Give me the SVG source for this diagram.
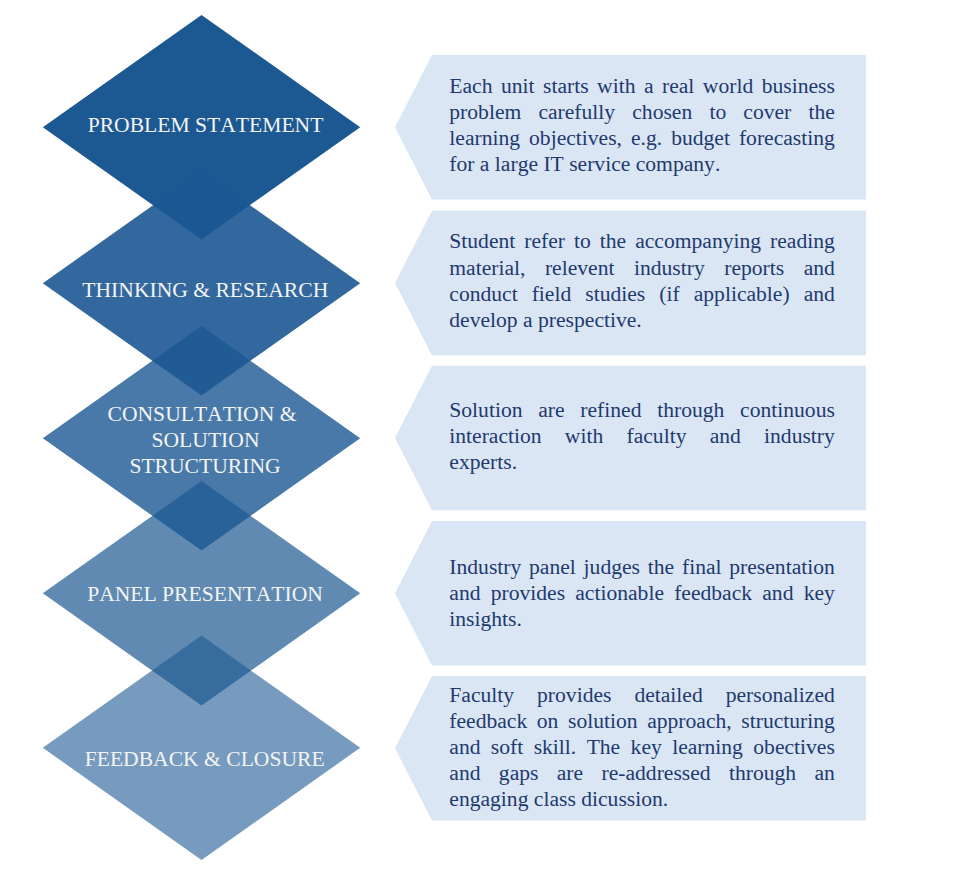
<svg xmlns="http://www.w3.org/2000/svg" width="960" height="869" viewBox="0 0 960 869">
  <style>
    .dia { fill: #1c5892; }
    .lbl { font-family: "Liberation Serif", "Times New Roman", serif; font-size: 21.6px; fill: #f4f4f4; text-anchor: middle; font-kerning: none; font-variant-ligatures: none; }
    .panel { fill: #dae6f4; }
    .desc { font-family: "Liberation Serif", "Times New Roman", serif; font-size: 21.6px; fill: #1f3a6f; font-kerning: none; font-variant-ligatures: none; }
  </style>
  <rect width="960" height="869" fill="#ffffff"/>

  <!-- Step 1 -->
  <g id="step-problem-statement">
    <polygon class="dia" points="201.5,15 360.2,127.2 201.5,239.4 42.8,127.2"/>
    <text class="lbl" x="205.5" y="131.7">PROBLEM STATEMENT</text>
    <polygon class="panel" points="432,55 866,55 866,199.5 432,199.5 395,127.3"/>
    <text class="desc">
      <tspan x="449.3" y="92.7" style="word-spacing:3.08px">Each unit starts with a real world business</tspan>
      <tspan x="449.3" y="118.8" style="word-spacing:11.75px">problem carefully chosen to cover the</tspan>
      <tspan x="449.3" y="144.9" style="word-spacing:3.59px">learning objectives, e.g. budget forecasting</tspan>
      <tspan x="449.3" y="171">for a large IT service company.</tspan>
    </text>
  </g>

  <!-- Step 2 -->
  <g id="step-thinking-research" opacity="0.9">
    <polygon class="dia" points="201.5,171 360.2,283.2 201.5,395.4 42.8,283.2"/>
  </g>
  <g id="step-thinking-research-text">
    <text class="lbl" x="205.3" y="297.3">THINKING &amp; RESEARCH</text>
    <polygon class="panel" points="432,210.7 866,210.7 866,355.2 432,355.2 395,283"/>
    <text class="desc">
      <tspan x="449.3" y="248.4" style="word-spacing:3.59px">Student refer to the accompanying reading</tspan>
      <tspan x="449.3" y="274.5" style="word-spacing:14.09px">material, relevent industry reports and</tspan>
      <tspan x="449.3" y="300.6" style="word-spacing:8.63px">conduct field studies (if applicable) and</tspan>
      <tspan x="449.3" y="326.7">develop a prespective.</tspan>
    </text>
  </g>

  <!-- Step 3 -->
  <g id="step-consultation" opacity="0.8">
    <polygon class="dia" points="201.5,326.1 360.2,438.3 201.5,550.5 42.8,438.3"/>
  </g>
  <g id="step-consultation-text">
    <text class="lbl" x="202" y="420.7">CONSULTATION &amp;</text>
    <text class="lbl" x="205.5" y="447.3">SOLUTION</text>
    <text class="lbl" x="205" y="473.3">STRUCTURING</text>
    <polygon class="panel" points="432,365.8 866,365.8 866,510.3 432,510.3 395,438"/>
    <text class="desc">
      <tspan x="449.3" y="416.8" style="word-spacing:10.33px">Solution are refined through continuous</tspan>
      <tspan x="449.3" y="442.9" style="word-spacing:17.83px">interaction with faculty and industry</tspan>
      <tspan x="449.3" y="469">experts.</tspan>
    </text>
  </g>

  <!-- Step 4 -->
  <g id="step-panel-presentation" opacity="0.7">
    <polygon class="dia" points="201.5,481.1 360.2,593.3 201.5,705.5 42.8,593.3"/>
  </g>
  <g id="step-panel-presentation-text">
    <text class="lbl" x="205" y="601">PANEL PRESENTATION</text>
    <polygon class="panel" points="432,521 866,521 866,665.5 432,665.5 395,593.3"/>
    <text class="desc">
      <tspan x="449.3" y="574" style="word-spacing:2.39px">Industry panel judges the final presentation</tspan>
      <tspan x="449.3" y="600.1" style="word-spacing:4.8px">and provides actionable feedback and key</tspan>
      <tspan x="449.3" y="626.2">insights.</tspan>
    </text>
  </g>

  <!-- Step 5 -->
  <g id="step-feedback-closure" opacity="0.6">
    <polygon class="dia" points="201.5,635.6 360.2,747.8 201.5,860 42.8,747.8"/>
  </g>
  <g id="step-feedback-closure-text">
    <text class="lbl" x="204.7" y="766">FEEDBACK &amp; CLOSURE</text>
    <polygon class="panel" points="432,676 866,676 866,820.5 432,820.5 395,748.3"/>
    <text class="desc">
      <tspan x="449.3" y="702" style="word-spacing:17.58px">Faculty provides detailed personalized</tspan>
      <tspan x="449.3" y="728.1" style="word-spacing:4.19px">feedback on solution approach, structuring</tspan>
      <tspan x="449.3" y="754.2" style="word-spacing:4.99px">and soft skill. The key learning obectives</tspan>
      <tspan x="449.3" y="780.3" style="word-spacing:12.96px">and gaps are re-addressed through an</tspan>
      <tspan x="449.3" y="806.4">engaging class dicussion.</tspan>
    </text>
  </g>
</svg>
